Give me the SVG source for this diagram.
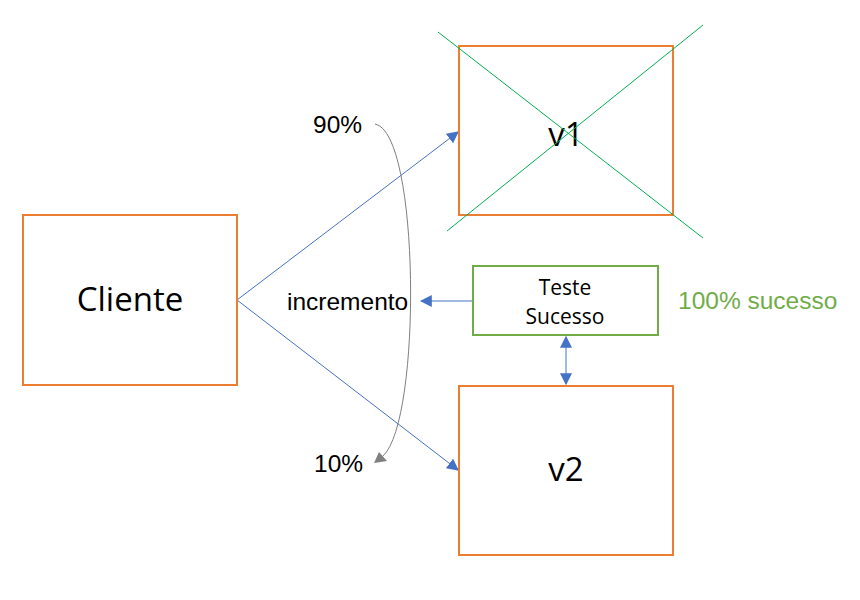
<svg xmlns="http://www.w3.org/2000/svg" width="860" height="600" viewBox="0 0 860 600">
<style>
.box{fill:#fff;stroke:#ED7D31;stroke-width:2}
.big{font-family:"Open Sans","Noto Sans",sans-serif;font-size:33px;fill:#000;text-anchor:middle}
.lbl{font-family:"Liberation Sans",Arial,sans-serif;font-size:24.5px;fill:#000}
.blue{stroke:#4472C4;stroke-width:1;fill:none}
.cross{stroke:#00B050;stroke-width:1}
</style>
<defs>
<marker id="ab" viewBox="0 0 10 10" refX="9" refY="5" markerWidth="12" markerHeight="12" markerUnits="userSpaceOnUse" orient="auto-start-reverse"><path d="M0,0 L10,5 L0,10 z" fill="#4472C4"/></marker>
</defs>
<rect width="860" height="600" fill="#fff"/>
<g id="connectors">
<line class="blue" x1="237" y1="300" x2="458" y2="132" marker-end="url(#ab)"/>
<line class="blue" x1="237" y1="300" x2="458" y2="470" marker-end="url(#ab)"/>
<line class="blue" x1="473" y1="301" x2="421" y2="301" marker-end="url(#ab)"/>
<line class="blue" x1="566" y1="337" x2="566" y2="384" marker-start="url(#ab)" marker-end="url(#ab)"/>
<path d="M375,124 C420,132 422,420 383,456" fill="none" stroke="#7F7F7F" stroke-width="1"/>
<polygon points="374,463 379,452 387,461" fill="#7F7F7F"/>
</g>
<g id="cliente"><rect class="box" x="23" y="215" width="214" height="170"/><text class="big" x="130" y="311">Cliente</text></g>
<g id="v1"><rect class="box" x="459" y="46" width="214" height="169"/><text class="big" x="566" y="146" font-weight="500">v1</text>
<line class="cross" x1="438" y1="32" x2="703" y2="238"/><line class="cross" x1="703" y1="25" x2="447" y2="231"/></g>
<g id="v2"><rect class="box" x="459" y="386" width="214" height="169"/><text class="big" x="566" y="481" font-weight="500">v2</text></g>
<g id="teste"><rect x="473" y="266" width="185" height="69" fill="#fff" stroke="#70AD47" stroke-width="2"/>
<text x="565" y="295" font-family="'Open Sans','Noto Sans',sans-serif" font-size="21" text-anchor="middle">Teste</text>
<text x="565" y="324" font-family="'Open Sans','Noto Sans',sans-serif" font-size="21" text-anchor="middle">Sucesso</text></g>
<g id="labels">
<text class="lbl" x="287" y="310">incremento</text>
<text class="lbl" x="313" y="133">90%</text>
<text class="lbl" x="314" y="472">10%</text>
<text x="678" y="309" font-family="'Liberation Sans',Arial,sans-serif" font-size="24.5" fill="#70AD47">100% sucesso</text>
</g>
</svg>
